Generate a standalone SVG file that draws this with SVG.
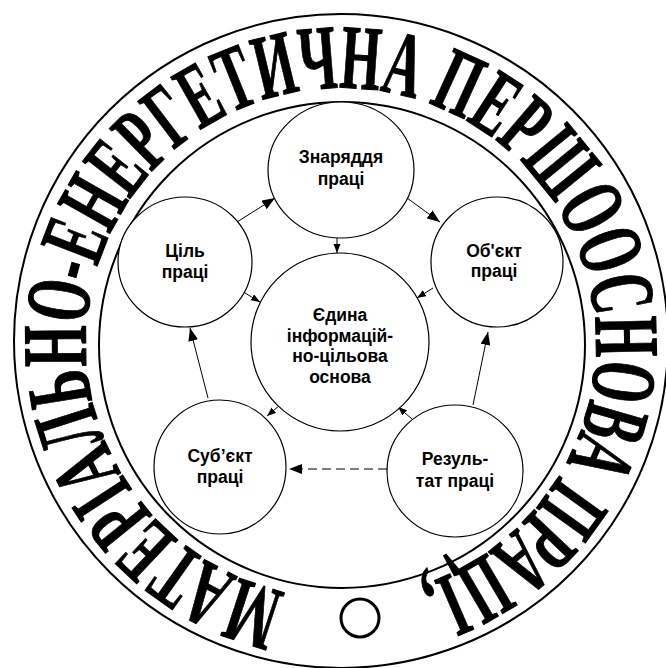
<svg xmlns="http://www.w3.org/2000/svg" width="666" height="668" viewBox="0 0 666 668">
<style>
.node ellipse{fill:#fff;stroke:#000;stroke-width:1.2}
.lbl{font-family:"Liberation Sans",Arial,sans-serif;font-weight:bold;font-size:17.5px;text-anchor:middle;fill:#000}
.ring{fill:none;stroke:#000;stroke-width:2}
.arc{font-family:"Liberation Serif","Times New Roman",serif;font-weight:bold;font-size:92px;fill:#000;stroke:#000;stroke-width:1.1}
.conn line{stroke:#000;stroke-width:1}
.big{marker-end:url(#big)}
.small{marker-end:url(#small)}
</style>
<defs>
<marker id="big" markerUnits="userSpaceOnUse" markerWidth="14" markerHeight="10" refX="13" refY="5" orient="auto"><path d="M0,0 L13,5 L0,10 z" fill="#000"/></marker>
<marker id="small" markerUnits="userSpaceOnUse" markerWidth="10" markerHeight="8" refX="9" refY="3.5" orient="auto"><path d="M0,0 L9,3.5 L0,7 z" fill="#000"/></marker>
<path id="tp" d="M285.8,592 A255,255 0 0 1 328.8,88.3 A255,255 0 0 1 419.8,585.5"/>
</defs>
<rect width="666" height="668" fill="#fff"/>
<g id="ring">
<circle class="ring" cx="341" cy="341" r="327"/>
<circle class="ring" cx="342" cy="345" r="243" stroke-width="1.6"/>
<text class="arc"><textPath href="#tp" startOffset="0" textLength="422" lengthAdjust="spacingAndGlyphs">МАТЕРІАЛЬНО-</textPath><textPath href="#tp" startOffset="422" textLength="412" lengthAdjust="spacingAndGlyphs">ЕНЕРГЕТИЧНА </textPath><textPath href="#tp" startOffset="834" textLength="450" lengthAdjust="spacingAndGlyphs">ПЕРШООСНОВА </textPath><textPath href="#tp" startOffset="1284" textLength="182" lengthAdjust="spacingAndGlyphs">ПРАЦІ,</textPath></text>
<circle cx="360" cy="618" r="19" fill="none" stroke="#000" stroke-width="3"/>
</g>
<g id="connectors" class="conn">
<line class="big" x1="237" y1="222" x2="275" y2="198"/>
<line class="big" x1="407" y1="198" x2="440" y2="222"/>
<line class="small" x1="337" y1="238" x2="337" y2="253"/>
<line class="small" x1="433" y1="288" x2="417" y2="298"/>
<line class="small" x1="245" y1="293" x2="260" y2="302"/>
<line class="big" x1="208" y1="398" x2="190" y2="328"/>
<line class="big" x1="473" y1="405" x2="488" y2="332"/>
<line class="small" x1="280" y1="405" x2="267" y2="416"/>
<line class="small" x1="412" y1="419" x2="398" y2="407"/>
<line class="big" x1="387" y1="469" x2="289" y2="469" stroke-dasharray="9,5"/>
</g>
<g id="center" class="node">
<ellipse cx="340" cy="342" rx="89" ry="89"/>
<text class="lbl" x="340" y="321">Єдина</text>
<text class="lbl" x="340" y="342">інформацій-</text>
<text class="lbl" x="340" y="362">но-цільова</text>
<text class="lbl" x="340" y="383">основа</text>
</g>
<g id="znaryaddya" class="node">
<ellipse cx="341" cy="170" rx="73" ry="68"/>
<text class="lbl" x="341" y="163">Знаряддя</text>
<text class="lbl" x="341" y="185">праці</text>
</g>
<g id="tsil" class="node">
<ellipse cx="185" cy="262" rx="67" ry="65"/>
<text class="lbl" x="185" y="257">Ціль</text>
<text class="lbl" x="185" y="278">праці</text>
</g>
<g id="obiekt" class="node">
<ellipse cx="497" cy="262" rx="66" ry="65"/>
<text class="lbl" x="494" y="257">Об'єкт</text>
<text class="lbl" x="494" y="277">праці</text>
</g>
<g id="subiekt" class="node">
<ellipse cx="220" cy="467" rx="66" ry="67"/>
<text class="lbl" x="220" y="462">Суб’єкт</text>
<text class="lbl" x="220" y="483">праці</text>
</g>
<g id="rezultat" class="node">
<ellipse cx="455" cy="471" rx="68" ry="66"/>
<text class="lbl" x="455" y="465">Резуль-</text>
<text class="lbl" x="455" y="487">тат праці</text>
</g>
</svg>
